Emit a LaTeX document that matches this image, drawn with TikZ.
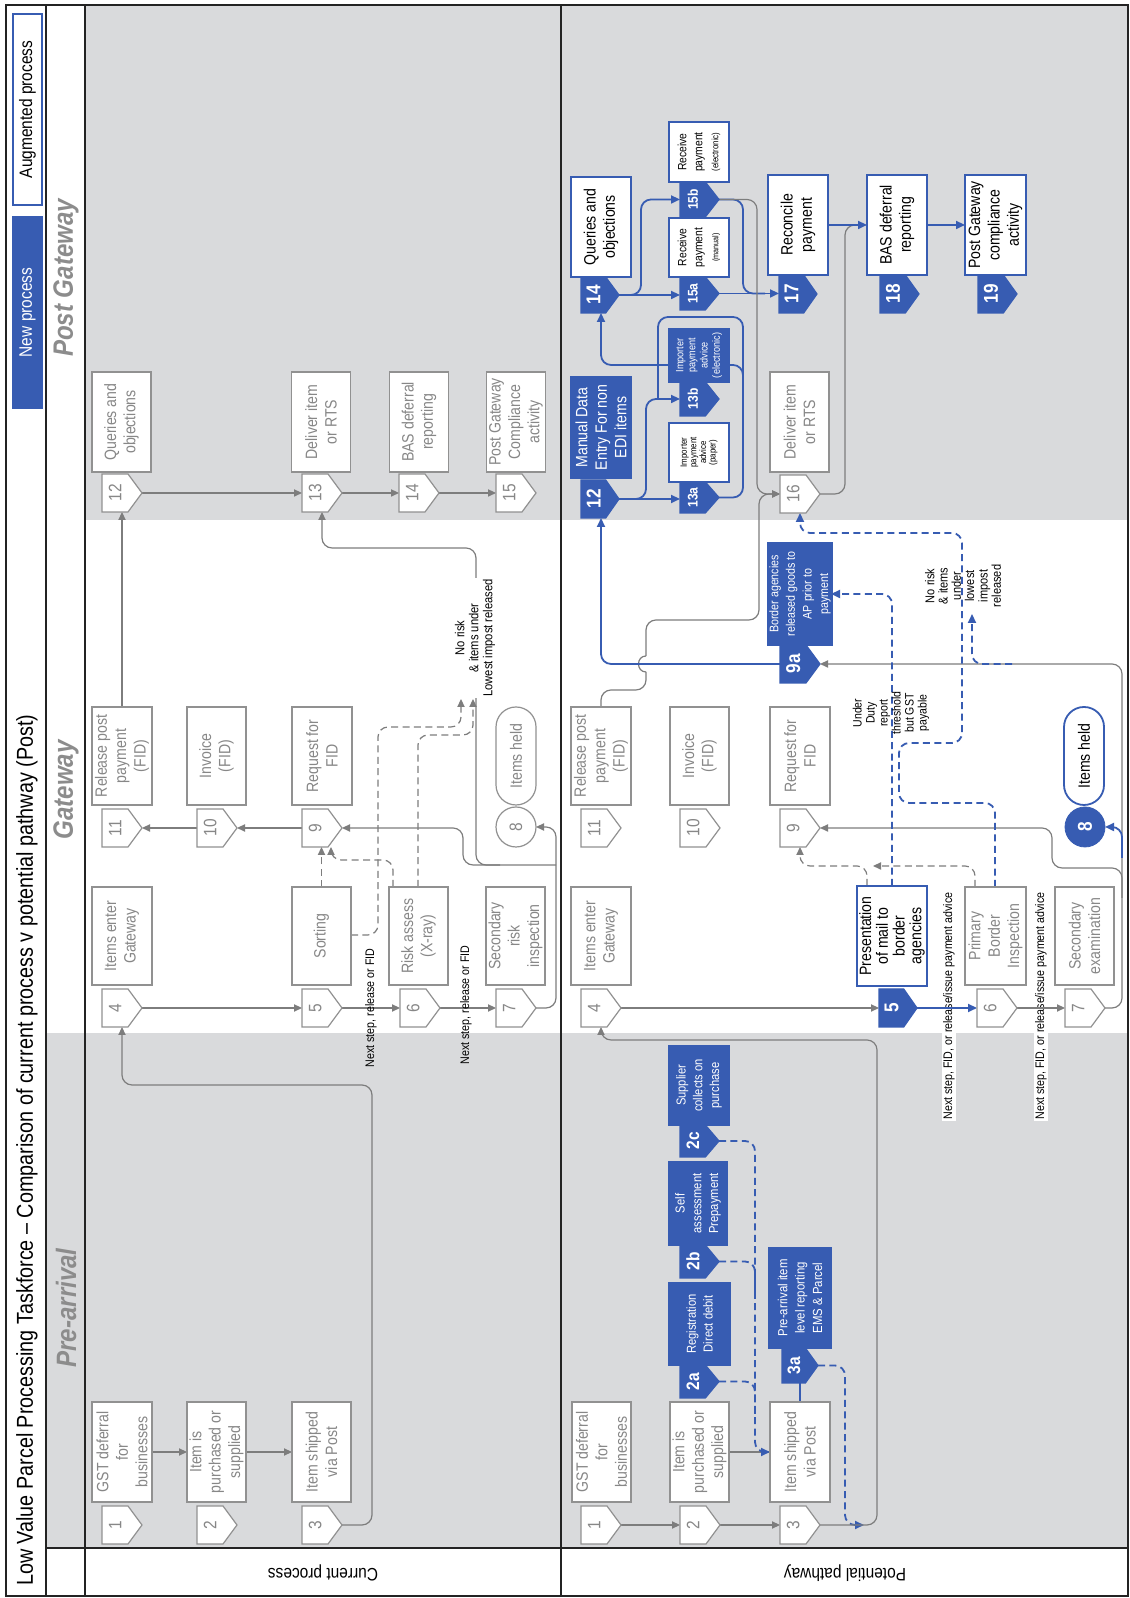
\documentclass[tikz,border=0pt]{standalone}
\usepackage{fontspec}
\setmainfont{Liberation Sans}[FakeStretch=0.86]
\usetikzlibrary{arrows.meta}
\definecolor{nblue}{RGB}{55,92,178}
\definecolor{bggray}{RGB}{217,218,220}
\definecolor{bordgray}{RGB}{145,145,145}
\definecolor{txtgray}{RGB}{135,135,135}
\definecolor{lngray}{RGB}{125,125,125}
\definecolor{hdgray}{RGB}{140,140,140}
\definecolor{framec}{RGB}{35,35,35}
\newcommand*{\FBx}{\fontsize{8.2pt}{9.7pt}\selectfont}
\newcommand*{\FSm}{\fontsize{6.5pt}{8.4pt}\selectfont}
\newcommand*{\FLb}{\fontsize{6.2pt}{7pt}\selectfont}
\newcommand*{\FTg}{\fontsize{9pt}{10pt}\selectfont}
\newcommand*{\FTgB}{\fontsize{10pt}{11pt}\selectfont\bfseries}
\newcommand*{\FTgM}{\fontsize{9pt}{10pt}\selectfont\bfseries}
\newcommand*{\FTgS}{\fontsize{7pt}{8pt}\selectfont\bfseries}
\newcommand*{\FHd}{\fontsize{14pt}{16pt}\selectfont\bfseries\itshape}
\newcommand*{\FTi}{\fontsize{11.5pt}{13pt}\selectfont}
\newcommand*{\FLg}{\fontsize{9pt}{10pt}\selectfont}
% tag pentagon: name, X, Y, w, h, shape style, text, text style
\newcommand{\pent}[8]{%
  \path[#6] (#2,#3) -- ++(#4,0) -- ++(0,{0.65*#5}) -- ++({-0.5*#4},{0.35*#5}) -- ++({-0.5*#4},{-0.35*#5}) -- cycle;
  \node[inner sep=0pt,outer sep=0pt,minimum width={#4*0.5pt},minimum height={#5*0.5pt}] (#1) at ({#2+0.5*#4},{#3+0.5*#5}) {};
  \node[#8] at ({#2+0.5*#4},{#3+0.33*#5}) {#7};
  \coordinate (#1p) at ({#2+0.5*#4},{#3+#5});
}
\tikzset{
  bx/.style n args={2}{minimum width=#1pt, minimum height=#2pt},
  gbox/.style={draw=bordgray, fill=white, line width=0.6pt, text=txtgray, align=center, inner sep=1pt, font=\FBx},
  abox/.style={draw=nblue, fill=white, line width=1pt, text=black, align=center, inner sep=1pt, font=\FBx},
  nbox/.style={draw=nblue, fill=nblue, line width=0.6pt, text=white, align=center, inner sep=1pt, font=\FSm},
  gtag/.style={draw=bordgray, fill=white, line width=0.6pt},
  btag/.style={draw=nblue, fill=nblue, line width=0.6pt},
  gtagt/.style={text=txtgray, font=\FTg, inner sep=0pt},
  btagt/.style={text=white, font=\FTgB, inner sep=0pt},
  btagm/.style={text=white, font=\FTgM, inner sep=0pt},
  btags/.style={text=white, font=\FTgS, inner sep=0pt},
  gline/.style={draw=lngray, line width=0.6pt},
  garr/.style={gline, -{Triangle[length=4pt,width=3.6pt]}},
  bline/.style={draw=nblue, line width=0.9pt},
  barr/.style={bline, -{Triangle[length=4.5pt,width=4pt]}},
  gdash/.style={gline, dash pattern=on 3.5pt off 2.2pt},
  bdash/.style={bline, dash pattern=on 3.5pt off 2.2pt},
  gdarr/.style={gdash, -{Triangle[length=4pt,width=3.6pt]}},
  bdarr/.style={bdash, -{Triangle[length=4.5pt,width=4pt]}},
  rc/.style={rounded corners=5pt},
  lbl/.style={font=\FLb, text=black, inner sep=0.6pt, align=center},
}
\begin{document}
\begin{tikzpicture}[x=0.5pt,y=-0.5pt,rotate=90,transform shape]
\useasboundingbox (0,0) rectangle (1598,1129);
% backgrounds
\fill[white] (0,0) rectangle (1598,1129);
\fill[bggray] (50,46) rectangle (565,1128);
\fill[bggray] (1078,85) rectangle (1593,1128);
% grid
\draw[framec, line width=0.6pt] (50,46) -- (50,1128);
\draw[framec, line width=0.8pt] (1.5,46) -- (1593,46);
\draw[framec, line width=1.2pt] (1.5,85) -- (1593,85);
\draw[framec, line width=1.2pt] (1.5,561) -- (1593,561);
\draw[framec, line width=1pt] (1.5,6) rectangle (1593,1128);
% title and legend
\node[font=\FTi, anchor=west] (title) at (5,27) {Low Value Parcel Processing Taskforce – Comparison of current process v potential pathway (Post)};
\node[nbox, font=\FLg, bx={95.5}{14.5}] (legnew) at (1285.5,27.5) {New process};
\node[abox, font=\FLg, line width=0.8pt, bx={95.5}{14.5}] (legaug) at (1488.5,27.5) {Augmented process};
% headers
\node[font=\FHd, text=hdgray] (hpre) at (290,66) {Pre-arrival};
\node[font=\FHd, text=hdgray] (hgw) at (808,66) {Gateway};
\node[font=\FHd, text=hdgray] (hpost) at (1320,66) {Post Gateway};
\node[font=\FLg, rotate=90] (lcur) at (25,323) {Current process};
\node[font=\FLg, rotate=90] (lpot) at (25,845) {Potential pathway};

% ---------- labels drawn under lines ----------
\node[lbl, fill=white] (ns3) at (592,949) {Next step, FID, or release/issue payment advice};
\node[lbl, fill=white] (ns4) at (592,1041) {Next step, FID, or release/issue payment advice};

% ---------- current process connectors ----------
\draw[garr] (146,152) -- (146,187);
\draw[garr] (146,246) -- (146,292);
\draw[garr, rc] (73,342) -- (73,372) -- (513,372) -- (513,122) -- (571,122);
\draw[garr] (590,142) -- (590,302);
\draw[garr] (590,342) -- (590,400);
\draw[garr] (590,440) -- (590,496);
\draw[garr, rc] (590,536) -- (590,556) -- (771,556) -- (771,536);
\draw[garr, rc] (733,556) -- (733,463) -- (770,463) -- (770,342);
\draw[garr, rc] (733,500) -- (733,476) -- (1050,476) -- (1050,322) -- (1086,322);
\draw[garr] (770,302) -- (770,237);
\draw[garr] (770,197) -- (770,142);
\draw[garr] (891,122) -- (1086,122);
\draw[garr] (1105,142) -- (1105,302);
\draw[garr] (1105,342) -- (1105,399);
\draw[garr] (1105,439) -- (1105,496);
\draw[gdarr] (711,321.5) -- (751,321.5);
\draw[gdarr, rc] (711,393) -- (738,393) -- (738,331) -- (751,331);
\draw[gdarr, rc] (663,351) -- (663,378) -- (871,378) -- (871,461) -- (899,461);
\draw[gdarr, rc] (711,418) -- (863,418) -- (863,473) -- (899,473);
\node[lbl] (ns1) at (590,371) {Next step, release or FID};
\node[lbl] (ns2) at (593,466) {Next step, release or FID};
\node[lbl, fill=white, font=\fontsize{6.5pt}{7pt}\selectfont] (nr1) at (960,475) {No risk\\\& items under\\Lowest impost released};

% ---------- potential pathway connectors ----------
\draw[garr] (73,621) -- (73,680);
\draw[garr] (73,720) -- (73,780);
\draw[gline] (146,729) -- (146,770);
\draw[bdarr, rc] (457,719) -- (457,755) -- (146,755) -- (146,770);
\draw[bdash, rc] (336.5,719) -- (336.5,755) -- (300,755);
\draw[bdash, rc] (216.5,719) -- (216.5,755) -- (180,755);
\draw[bline] (196,800) -- (215,800);
\draw[bdarr, rc] (232.5,818) -- (232.5,845) -- (73,845) -- (73,864);
\draw[garr, rc] (73,820) -- (73,877) -- (558,877) -- (558,601) -- (571,601);
\draw[garr] (590,621) -- (590,879);
\draw[barr] (590,917) -- (590,977);
\draw[garr] (590,1017) -- (590,1065);
\draw[garr, rc] (590,1105) -- (590,1122) -- (934,1122) -- (934,820);
\draw[garr, rc] (700,1122) -- (730,1122) -- (730,1052) -- (770,1052) -- (770,820);
\draw[barr, rc] (740,1122) -- (771,1122) -- (771,1105);
\draw[gdarr, rc] (712,867) -- (732,867) -- (732,800) -- (751,800);
\draw[gdarr, rc] (711,975) -- (732,975) -- (732,873);
\draw[bdarr, rc] (712,892) -- (1004,892) -- (1004,831);
\draw[bdarr, rc] (711,995) -- (795,995) -- (795,899) -- (855,899) -- (855,962) -- (1065,962) -- (1065,800) -- (1085,800);
\draw[bdarr, rc] (934,1012) -- (934,972) -- (984,972);
\draw[gline, rc] (891,601) -- (908,601) -- (908,646) -- (926,646);
\draw[gline] (926,646) .. controls (926,636) and (942,636) .. (942,646);
\draw[garr, rc] (942,646) -- (978,646) -- (978,759) -- (1104,759) -- (1104,780);
\draw[barr, rc] (934,780) -- (934,601) -- (1080,601);
\draw[barr] (1099,619) -- (1099,680);
\draw[barr, rc] (1099,625) -- (1099,646) -- (1199,646) -- (1199,680);
\draw[bline, rc] (1100.5,719) -- (1100.5,743) -- (1281,743) -- (1281,658) -- (1200,658);
\draw[barr, rc] (1200,743) -- (1233,743) -- (1233,601) -- (1285,601);
\draw[barr] (1303,619) -- (1303,680);
\draw[barr, rc] (1303,628) -- (1303,641) -- (1398.5,641) -- (1398.5,680);
\draw[barr] (1304.5,719) -- (1304.5,779);
\draw[bline, rc] (1398.5,719) -- (1398.5,743) -- (1304.5,743) -- (1304.5,765);
\draw[garr, rc] (1398.5,719) -- (1398.5,757) -- (1104,757) -- (1104,780);
\draw[gline, rc] (1104,820) -- (1104,845) -- (1373,845) -- (1373,862);
\draw[barr] (1373,828) -- (1373,867);
\draw[barr] (1373,927) -- (1373,965);
\node[lbl, font=\fontsize{6.1pt}{6.5pt}\selectfont] (ud) at (885,891) {Under\\Duty\\report\\threshold\\but GST\\payable};
\node[lbl, font=\fontsize{6.4pt}{6.65pt}\selectfont] (nr2) at (1012,963) {No risk\\\& items\\under\\lowest\\impost\\released};

% ---------- current process nodes ----------
\node[gbox, bx={50}{30}] (c1) at (146,122) {GST deferral\\for\\businesses};
\node[gbox, bx={50}{29.5}] (c2) at (146,216.5) {Item is\\purchased or\\supplied};
\node[gbox, bx={50}{29.5}] (c3) at (146,321.5) {Item shipped\\via Post};
\node[gbox, bx={49}{30}] (c4) at (662,122) {Items enter\\Gateway};
\node[gbox, bx={49}{29.5}] (c5) at (662,321.5) {Sorting};
\node[gbox, bx={49}{29.5}] (c6) at (662,418.5) {Risk assess\\(X-ray)};
\node[gbox, bx={49}{29.5}] (c7) at (662,515.5) {Secondary\\risk\\inspection};
\node[gbox, bx={49}{30}] (c9) at (842,322) {Request for\\FID};
\node[gbox, bx={49}{29.5}] (c10) at (842,216.5) {Invoice\\(FID)};
\node[gbox, bx={49}{30}] (c11) at (842,122) {Release post\\payment\\(FID)};
\node[gbox, rounded corners=10pt, bx={49}{20}] (ch) at (842,516) {Items held};
\node[circle, draw=bordgray, fill=white, line width=0.6pt, minimum size=20pt, inner sep=0pt, text=txtgray, font=\FTg] (c8) at (771,516) {8};
\node[gbox, bx={50}{29.5}] (c12) at (1176,121.5) {Queries and\\objections};
\node[gbox, bx={50}{29.5}] (c13) at (1176,321) {Deliver item\\or RTS};
\node[gbox, bx={50}{29.5}] (c14) at (1176,419) {BAS deferral\\reporting};
\node[gbox, bx={50}{29.5}] (c15) at (1176,516) {Post Gateway\\Compliance\\activity};
\pent{tc1}{54}{102}{38}{40}{gtag}{1}{gtagt}
\pent{tc2}{54}{197}{38}{40}{gtag}{2}{gtagt}
\pent{tc3}{54}{302}{38}{40}{gtag}{3}{gtagt}
\pent{tc4}{571}{102}{38}{40}{gtag}{4}{gtagt}
\pent{tc5}{571}{302}{38}{40}{gtag}{5}{gtagt}
\pent{tc6}{571}{400}{38}{40}{gtag}{6}{gtagt}
\pent{tc7}{571}{496}{38}{40}{gtag}{7}{gtagt}
\pent{tc9}{751}{302}{38}{40}{gtag}{9}{gtagt}
\pent{tc10}{751}{197}{38}{40}{gtag}{10}{gtagt}
\pent{tc11}{751}{102}{38}{40}{gtag}{11}{gtagt}
\pent{tc12}{1086}{102}{38}{40}{gtag}{12}{gtagt}
\pent{tc13}{1086}{302}{38}{40}{gtag}{13}{gtagt}
\pent{tc14}{1086}{399}{38}{40}{gtag}{14}{gtagt}
\pent{tc15}{1086}{496}{38}{40}{gtag}{15}{gtagt}

% ---------- potential pathway nodes ----------
\node[gbox, bx={50}{29.5}] (p1) at (146,601.5) {GST deferral\\for\\businesses};
\node[gbox, bx={50}{29.5}] (p2) at (146,699.5) {Item is\\purchased or\\supplied};
\node[gbox, bx={50}{30}] (p3) at (146,800) {Item shipped\\via Post};
\node[nbox, bx={41}{30.5}] (p2a) at (274,699.5) {Registration\\Direct debit};
\node[nbox, bx={41.5}{29}] (p2b) at (394.5,698) {Self\\assessment\\Prepayment};
\node[nbox, bx={39.5}{30}] (p2c) at (512.5,699) {Supplier\\collects on\\purchase};
\node[nbox, bx={50}{31}, font=\fontsize{6.6pt}{8.7pt}\selectfont] (p3a) at (300,800) {Pre-arrival item\\level reporting\\EMS \& Parcel};
\node[gbox, bx={49}{30}] (p4) at (662,601) {Items enter\\Gateway};
\node[abox, bx={50}{35}, font=\fontsize{8.2pt}{8.4pt}\selectfont] (p5) at (662,892) {Presentation\\of mail to\\border\\agencies};
\node[gbox, bx={49}{30.5}] (p6) at (662,995.5) {Primary\\Border\\Inspection};
\node[gbox, bx={49}{29.5}] (p7) at (662,1084.5) {Secondary\\examination};
\node[gbox, bx={49}{30}] (p9) at (842,800) {Request for\\FID};
\node[gbox, bx={49}{29.5}] (p10) at (842,699.5) {Invoice\\(FID)};
\node[gbox, bx={49}{30}] (p11) at (842,601) {Release post\\payment\\(FID)};
\node[abox, rounded corners=10pt, line width=0.9pt, bx={49}{20}] (ph) at (842,1084) {Items held};
\node[circle, draw=nblue, fill=nblue, minimum size=20pt, inner sep=0pt, text=white, font=\FTgB] (p8) at (771,1085) {8};
\node[nbox, bx={51}{31}, font=\fontsize{6.2pt}{8.3pt}\selectfont] (p9a) at (1004,800) {Border agencies\\released goods to\\AP prior to\\payment};
\node[nbox, bx={50.5}{30}, font=\FBx] (p12) at (1170.5,601) {Manual Data\\Entry For non\\EDI items};
\node[abox, bx={29.5}{30}, line width=0.9pt, font=\fontsize{4.6pt}{4.8pt}\selectfont] (p13a) at (1145.5,699) {Importer\\payment\\advice\\(paper)};
\node[nbox, bx={26.5}{30}, font=\fontsize{5.3pt}{6.1pt}\selectfont] (p13b) at (1242.5,699) {Importer\\payment\\advice\\(electronic)};
\node[abox, bx={50}{30}] (p14) at (1371,601) {Queries and\\objections};
\node[abox, bx={29.5}{30}, line width=0.9pt, font=\fontsize{6pt}{8pt}\selectfont] (p15a) at (1350.5,699) {Receive\\payment\\{\fontsize{4.2pt}{5pt}\selectfont(manual)}};
\node[abox, bx={30}{30}, line width=0.9pt, font=\fontsize{6pt}{8pt}\selectfont] (p15b) at (1446,699) {Receive\\payment\\{\fontsize{4.6pt}{5pt}\selectfont(electronic)}};
\node[gbox, bx={50}{29.5}] (p16) at (1176,799.5) {Deliver item\\or RTS};
\node[abox, bx={50}{30}] (p17) at (1373,798) {Reconcile\\payment};
\node[abox, bx={50}{30}] (p18) at (1373,897) {BAS deferral\\reporting};
\node[abox, bx={50}{30.5}] (p19) at (1373,995.5) {Post Gateway\\compliance\\activity};
\pent{tp1}{54}{581}{38}{40}{gtag}{1}{gtagt}
\pent{tp2}{54}{680}{38}{40}{gtag}{2}{gtagt}
\pent{tp3}{54}{780}{38}{40}{gtag}{3}{gtagt}
\pent{tp2a}{200}{680}{33}{39}{btag}{2a}{btagm}
\pent{tp2b}{320}{680}{33}{39}{btag}{2b}{btagm}
\pent{tp2c}{441}{680}{32}{39}{btag}{2c}{btagm}
\pent{tp3a}{215}{782}{35}{36}{btag}{3a}{btagm}
\pent{tp4}{571}{581}{38}{40}{gtag}{4}{gtagt}
\pent{tp5}{571}{879}{38}{38}{btag}{5}{btagt}
\pent{tp6}{571}{977}{38}{40}{gtag}{6}{gtagt}
\pent{tp7}{571}{1065}{38}{40}{gtag}{7}{gtagt}
\pent{tp9}{751}{780}{38}{40}{gtag}{9}{gtagt}
\pent{tp10}{751}{680}{38}{40}{gtag}{10}{gtagt}
\pent{tp11}{751}{581}{38}{40}{gtag}{11}{gtagt}
\pent{tp9a}{915}{780}{38}{40}{btag}{9a}{btagt}
\pent{tp12}{1080}{581}{38}{38}{btag}{12}{btagt}
\pent{tp13a}{1085}{680}{31}{39}{btag}{13a}{btags}
\pent{tp13b}{1182}{680}{34}{39}{btag}{13b}{btags}
\pent{tp14}{1285}{581}{36}{38}{btag}{14}{btagt}
\pent{tp15a}{1288}{680}{33}{39}{btag}{15a}{btags}
\pent{tp15b}{1381}{680}{35}{39}{btag}{15b}{btags}
\pent{tp16}{1085}{780}{38}{40}{gtag}{16}{gtagt}
\pent{tp17}{1285}{779}{38}{38}{btag}{17}{btagt}
\pent{tp18}{1285}{880}{38}{39}{btag}{18}{btagt}
\pent{tp19}{1285}{978}{38}{39}{btag}{19}{btagt}
\end{tikzpicture}
\end{document}
